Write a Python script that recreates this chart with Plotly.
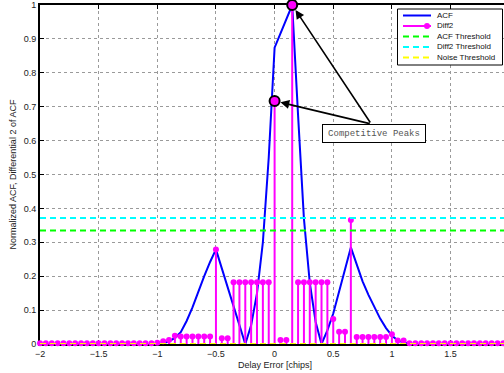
import numpy as np
import plotly.graph_objects as go

# ---------------- data ----------------
delay_step = 0.05
diff2_delay = np.round(np.arange(-2.0, 2.0 + 1e-9, delay_step), 2)
diff2_values = (
    [0.002] * 20 +
    [0.004, 0.008, 0.012, 0.024, 0.022, 0.022, 0.022, 0.022, 0.022, 0.022,
     0.279, 0.017, 0.017,
     0.182, 0.182, 0.182, 0.182, 0.182, 0.182, 0.182,
     0.717, 0.012, 0.012, 1.000,
     0.182, 0.182, 0.182, 0.182, 0.182, 0.182,
     0.074, 0.036, 0.036, 0.366,
     0.021, 0.021, 0.021, 0.021, 0.021, 0.021, 0.029, 0.010, 0.010] +
    [0.002] * 18
)

acf_delay = np.round(np.arange(-1.0, 1.15 + 1e-9, delay_step), 2)
acf_values = [
    0.000, 0.002, 0.008, 0.018, 0.035, 0.068, 0.108, 0.155, 0.200, 0.242,
    0.279, 0.223, 0.167, 0.112, 0.056, 0.000, 0.055, 0.150, 0.300, 0.550,
    0.874, 0.916, 0.958, 1.000, 0.675, 0.370, 0.180, 0.065, 0.000, 0.040,
    0.090, 0.155, 0.220, 0.285, 0.235, 0.185, 0.145, 0.108, 0.075, 0.047,
    0.025, 0.010, 0.004, 0.000,
]

acf_threshold = 0.335
diff2_threshold = 0.372
noise_threshold = 0.0

x_ticks = [-2, -1.5, -1, -0.5, 0, 0.5, 1, 1.5, 2]
y_ticks = [0, 0.1, 0.2, 0.3, 0.4, 0.5, 0.6, 0.7, 0.8, 0.9, 1]

legend_labels = ["ACF", "Diff2", "ACF Threshold", "Diff2 Threshold", "Noise Threshold"]
annotation_text = "Competitive Peaks"

# ---------------- styling ----------------
BLUE, MAG, GREEN, CYAN, YEL = "#0000FF", "#FF00FF", "#00FF00", "#00FFFF", "#FFFF00"
FONT = "Liberation Sans, Arial, sans-serif"

W, H = 504, 373
L, R, T, B = 40, 0, 5, 29
PW, PH = W - L - R, H - T - B
px_per_unit = 117.3
x_min = -2.0
x_max = x_min + PW / px_per_unit

def px_x(px):
    return (px - L) / PW

def px_y(py):
    return (H - B - py) / PH

fig = go.Figure()

# ACF
fig.add_trace(go.Scatter(x=acf_delay, y=acf_values, mode="lines",
                         line=dict(color=BLUE, width=2), showlegend=False,
                         cliponaxis=False))

# Diff2 stems
sx, sy = [], []
for xv, yv in zip(diff2_delay, diff2_values):
    sx += [xv, xv, None]
    sy += [0, yv, None]
fig.add_trace(go.Scatter(x=sx, y=sy, mode="lines", line=dict(color=MAG, width=2),
                         showlegend=False, hoverinfo="skip"))
fig.add_trace(go.Scatter(x=diff2_delay, y=diff2_values, mode="markers",
                         marker=dict(color=MAG, size=6, line=dict(width=0)),
                         showlegend=False, cliponaxis=False))

# thresholds
dash = "6px,4px"
for val, col in [(acf_threshold, GREEN), (diff2_threshold, CYAN), (noise_threshold, YEL)]:
    fig.add_trace(go.Scatter(x=[x_ticks[0], x_ticks[-1]], y=[val, val], mode="lines",
                             line=dict(color=col, width=2, dash=dash),
                             showlegend=False, cliponaxis=False))

# competitive peaks (two largest Diff2 values)
order = np.argsort(diff2_values)[::-1][:2]
peak_x = [float(diff2_delay[i]) for i in order]
peak_y = [float(diff2_values[i]) for i in order]
fig.add_trace(go.Scatter(x=peak_x, y=peak_y, mode="markers",
                         marker=dict(color=MAG, size=10, line=dict(color="black", width=2)),
                         showlegend=False, cliponaxis=False))

annotations = []
tail_x = 0.824
tail_y = 0.649
for xv, yv in zip(peak_x, peak_y):
    annotations.append(dict(x=xv, y=yv, xref="x", yref="y", ax=tail_x, ay=tail_y,
                            axref="x", ayref="y", text="", showarrow=True,
                            arrowhead=2, arrowsize=1.1, arrowwidth=1.6,
                            arrowcolor="black", standoff=6))
annotations.append(dict(x=0.850, y=0.6215, xref="x", yref="y", text=annotation_text,
                        showarrow=False, font=dict(family="Liberation Mono, Courier New, monospace",
                                                   size=9, color="#555555"),
                        bgcolor="white", bordercolor="black", borderwidth=1, borderpad=2,
                        width=98, height=13))

# axis titles
annotations.append(dict(x=0, y=px_y(365), xref="x", yref="paper", text="Delay Error [chips]",
                        showarrow=False, font=dict(family=FONT, size=9, color="#222"),
                        xanchor="center", yanchor="middle"))
annotations.append(dict(x=px_x(12), y=0.5, xref="paper", yref="paper",
                        text="Normalized ACF, Differential 2 of ACF", textangle=-90,
                        showarrow=False, font=dict(family=FONT, size=9, color="#222"),
                        xanchor="center", yanchor="middle"))

# legend (drawn manually to match compact MATLAB legend)
shapes = []
lg_x0, lg_x1, lg_y0, lg_y1 = 397.5, 502.5, 9, 65
shapes.append(dict(type="rect", xref="paper", yref="paper",
                   x0=px_x(lg_x0), x1=px_x(lg_x1), y0=px_y(lg_y1), y1=px_y(lg_y0),
                   line=dict(color="black", width=1), fillcolor="white", layer="above"))
row_y = [15.5, 26, 36.5, 47, 57.5]
styles = [(BLUE, "solid"), (MAG, "solid"), (GREEN, dash), (CYAN, dash), (YEL, dash)]
for i, (lab, (col, dsh)) in enumerate(zip(legend_labels, styles)):
    yy = px_y(row_y[i])
    shapes.append(dict(type="line", xref="paper", yref="paper",
                       x0=px_x(403), x1=px_x(431), y0=yy, y1=yy,
                       line=dict(color=col, width=2, dash=dsh), layer="above"))
    if lab == "Diff2":
        shapes.append(dict(type="circle", xref="paper", yref="paper",
                           x0=px_x(424), x1=px_x(430), y0=px_y(row_y[i] + 3), y1=px_y(row_y[i] - 3),
                           line=dict(color=MAG, width=0), fillcolor=MAG, layer="above"))
    annotations.append(dict(x=px_x(435), y=yy, xref="paper", yref="paper", text=lab,
                            showarrow=False, xanchor="left", yanchor="middle",
                            font=dict(family=FONT, size=8, color="#111")))

axis_common = dict(showline=True, linecolor="black", linewidth=2,
                   ticks="inside", ticklen=4, tickcolor="black", tickwidth=1,
                   showgrid=True, gridcolor="#9a9a9a", griddash="dot", gridwidth=1,
                   zeroline=False, layer="below traces",
                   tickfont=dict(family=FONT, size=9, color="#222"))

fig.update_layout(
    width=W, height=H, autosize=False,
    margin=dict(l=L, r=R, t=T, b=B, pad=0),
    paper_bgcolor="white", plot_bgcolor="white",
    xaxis=dict(range=[x_min, x_max], tickvals=x_ticks, mirror="allticks", **axis_common),
    yaxis=dict(range=[0, 1], tickvals=y_ticks, mirror=False, **axis_common),
    annotations=annotations, shapes=shapes, showlegend=False,
)

fig.write_html("out.html")
